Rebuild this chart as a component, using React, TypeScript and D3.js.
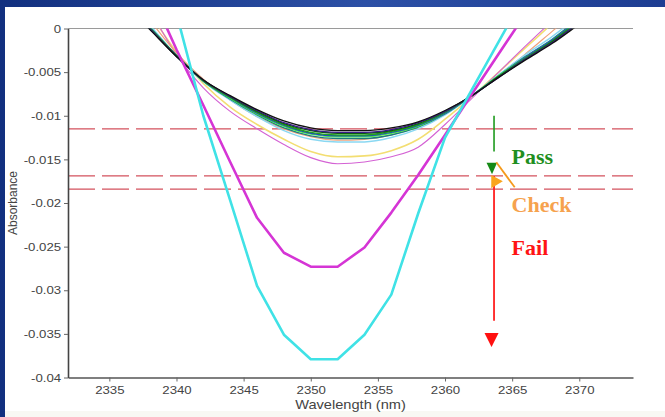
import React, { useEffect, useRef } from "react";
import * as d3 from "d3";

// wavelength grid of the spectra (nm)
const wavelengths = [2336, 2338, 2340, 2342, 2344, 2346, 2348, 2350, 2352, 2354, 2356, 2358, 2360, 2362, 2364, 2366, 2368, 2370, 2372];

// the "pass" bundle
const specBlack = [0.0030, -0.0001, -0.0032, -0.0059, -0.0077, -0.0093, -0.0106, -0.0114, -0.0117, -0.0117, -0.0114, -0.0107, -0.0094, -0.0077, -0.0056, -0.0036, -0.0017, 0.0005, 0.0027];
const specNavy = [0.0031, 0.0000, -0.0032, -0.0059, -0.0078, -0.0094, -0.0108, -0.0116, -0.0119, -0.0119, -0.0116, -0.0108, -0.0095, -0.0077, -0.0056, -0.0035, -0.0016, 0.0007, 0.0029];
const specDarkGreen = [0.0032, 0.0000, -0.0032, -0.0059, -0.0078, -0.0095, -0.0109, -0.0117, -0.0120, -0.0120, -0.0117, -0.0109, -0.0095, -0.0077, -0.0055, -0.0035, -0.0015, 0.0007, 0.0030];
const specGreen = [0.0033, 0.0001, -0.0031, -0.0060, -0.0079, -0.0096, -0.0110, -0.0119, -0.0122, -0.0122, -0.0118, -0.0110, -0.0096, -0.0077, -0.0055, -0.0034, -0.0014, 0.0009, 0.0032];
const specBlue = [0.0034, 0.0001, -0.0031, -0.0060, -0.0079, -0.0097, -0.0111, -0.0120, -0.0123, -0.0123, -0.0119, -0.0111, -0.0097, -0.0077, -0.0055, -0.0033, -0.0013, 0.0010, 0.0032];
const specLime = [0.0034, 0.0001, -0.0031, -0.0060, -0.0080, -0.0098, -0.0112, -0.0121, -0.0124, -0.0124, -0.0120, -0.0112, -0.0097, -0.0077, -0.0054, -0.0033, -0.0013, 0.0010, 0.0033];
const specTeal = [0.0035, 0.0002, -0.0031, -0.0060, -0.0081, -0.0099, -0.0114, -0.0123, -0.0126, -0.0126, -0.0122, -0.0113, -0.0098, -0.0077, -0.0054, -0.0032, -0.0012, 0.0012, 0.0035];
const specSky = [0.0038, 0.0004, -0.0031, -0.0061, -0.0082, -0.0101, -0.0117, -0.0127, -0.0130, -0.0130, -0.0125, -0.0115, -0.0099, -0.0077, -0.0053, -0.0030, -0.0009, 0.0015, 0.0039];

// "check" spectra
const specSalmon = [null, 0.0010, -0.0028, -0.0058, -0.0082, -0.0101, -0.0115, -0.0124, -0.0128, -0.0127, -0.0122, -0.0112, -0.0096, -0.0077, -0.0054, -0.0029, -0.0003, 0.0023, null];
const specYellow = [null, 0.0018, -0.0027, -0.0063, -0.0090, -0.0110, -0.0127, -0.0141, -0.0147, -0.0146, -0.0140, -0.0127, -0.0104, -0.0078, -0.0050, -0.0022, 0.0006, null, null];
const specViolet = [null, 0.0022, -0.0030, -0.0068, -0.0095, -0.0115, -0.0133, -0.0148, -0.0155, -0.0153, -0.0147, -0.0136, -0.0110, -0.0080, -0.0050, -0.0020, 0.0009, null, null];

// "fail" spectra
const specMagenta = [null, 0.0044, -0.0024, -0.0088, -0.0153, -0.0217, -0.0257, -0.0273, -0.0273, -0.0251, -0.0211, -0.0168, -0.0122, -0.0075, -0.0029, 0.0017, null, null, null];
const specCyan = [null, null, 0.0017, -0.0100, -0.0197, -0.0295, -0.0351, -0.0379, -0.0379, -0.0351, -0.0305, -0.0212, -0.0125, -0.0070, -0.0015, 0.0040, null, null, null];

// dashed limit lines
const thresholds = [-0.0115, -0.0169, -0.0184];

const xTicks = [2335, 2340, 2345, 2350, 2355, 2360, 2365, 2370];
const yTicks = [0, -0.005, -0.01, -0.015, -0.02, -0.025, -0.03, -0.035, -0.04];
const yTickLabels = ["0", "-0.005", "-0.01", "-0.015", "-0.02", "-0.025", "-0.03", "-0.035", "-0.04"];

const spectra = [
	{ color: "#f3de72", width: 1.6, values: specYellow, smooth: true },
	{ color: "#d462d4", width: 1.1, values: specViolet, smooth: true },
	{ color: "#f0a27c", width: 1.2, values: specSalmon, smooth: true },
	{ color: "#8ad8f2", width: 1.5, values: specSky, smooth: true },
	{ color: "#1a7f80", width: 1.4, values: specTeal, smooth: true },
	{ color: "#46ec46", width: 1.4, values: specLime, smooth: true },
	{ color: "#2442d0", width: 1.4, values: specBlue, smooth: true },
	{ color: "#1fa01f", width: 1.4, values: specGreen, smooth: true },
	{ color: "#0b5e0b", width: 1.5, values: specDarkGreen, smooth: true },
	{ color: "#3a1a8a", width: 1.3, values: specNavy, smooth: true },
	{ color: "#111111", width: 1.3, values: specBlack, smooth: true },
	{ color: "#d535d5", width: 2.6, values: specMagenta, smooth: false },
	{ color: "#40e2e6", width: 2.6, values: specCyan, smooth: false },
];

const axisFont = "'Liberation Sans', Arial, sans-serif";

function SpectraChart() {
	const svgRef = useRef<SVGSVGElement>(null);

	useEffect(() => {
		const svg = d3.select(svgRef.current);
		svg.selectAll("*").remove();

		const width = 665;
		const height = 417;

		const x = d3.scaleLinear().domain([2331.92, 2374]).range([68, 633]);
		const y = d3.scaleLinear().domain([-0.04, 0]).range([377.5, 28.5]);

		// slide background
		const defs = svg.append("defs");
		const grad = defs.append("linearGradient").attr("id", "slideBg").attr("x1", "0").attr("x2", "1").attr("y1", "0").attr("y2", "0");
		grad.append("stop").attr("offset", "0%").attr("stop-color", "#12307f");
		grad.append("stop").attr("offset", "55%").attr("stop-color", "#2c50a6");
		grad.append("stop").attr("offset", "100%").attr("stop-color", "#1d3d92");
		defs.append("clipPath").attr("id", "plotClip")
			.append("rect")
			.attr("x", 68).attr("y", y(0))
			.attr("width", 633 - 68).attr("height", y(-0.04) - y(0));

		svg.append("rect").attr("width", width).attr("height", height).attr("fill", "url(#slideBg)");
		svg.append("rect").attr("x", 5).attr("y", 7).attr("width", width - 5).attr("height", height - 7).attr("fill", "#ffffff");
		svg.append("rect").attr("x", 5).attr("y", 411).attr("width", width - 5).attr("height", 6).attr("fill", "#f8f8f3");

		// top frame line
		svg.append("line")
			.attr("x1", 68).attr("x2", 633)
			.attr("y1", y(0)).attr("y2", y(0))
			.attr("stroke", "#9a9a9a").attr("stroke-width", 1);

		const plot = svg.append("g").attr("clip-path", "url(#plotClip)");

		// limit lines
		plot.selectAll(".limit")
			.data(thresholds)
			.enter()
			.append("line")
			.attr("class", "limit")
			.attr("x1", 68).attr("x2", 633)
			.attr("y1", (d) => y(d)).attr("y2", (d) => y(d))
			.attr("stroke", "#d4525e")
			.attr("stroke-width", 1.3)
			.attr("stroke-dasharray", "27 7");

		const smoothLine = d3
			.line<number | null>()
			.defined((d) => d !== null)
			.x((d, i) => x(wavelengths[i]))
			.y((d) => y(d as number))
			.curve(d3.curveMonotoneX);
		const straightLine = d3
			.line<number | null>()
			.defined((d) => d !== null)
			.x((d, i) => x(wavelengths[i]))
			.y((d) => y(d as number));

		plot.selectAll(".spectrum")
			.data(spectra)
			.enter()
			.append("path")
			.attr("class", "spectrum")
			.attr("d", (d) => (d.smooth ? smoothLine(d.values) : straightLine(d.values)))
			.attr("fill", "none")
			.attr("stroke", (d) => d.color)
			.attr("stroke-width", (d) => d.width)
			.attr("stroke-linejoin", "round");

		// axes
		const xAxis = svg.append("g")
			.attr("transform", `translate(0,${y(-0.04)})`)
			.call(d3.axisBottom(x).tickValues(xTicks).tickSize(4).tickSizeOuter(0).tickPadding(4).tickFormat((d) => String(d)));
		xAxis.select(".domain").attr("stroke", "#555").attr("stroke-width", 1.6);
		xAxis.selectAll(".tick line").attr("stroke", "#666");
		xAxis.selectAll(".tick text")
			.attr("font-family", axisFont).attr("font-size", 11.5).attr("fill", "#444")
			.attr("transform", "scale(1.15,1)");

		const yAxis = svg.append("g")
			.attr("transform", "translate(68,0)")
			.call(d3.axisLeft(y).tickValues(yTicks).tickSize(4).tickSizeOuter(0).tickPadding(2)
				.tickFormat((d, i) => yTickLabels[i]));
		yAxis.select(".domain").attr("stroke", "#444").attr("stroke-width", 1.6);
		yAxis.selectAll(".tick line").attr("stroke", "#666");
		yAxis.selectAll(".tick text")
			.attr("font-family", axisFont).attr("font-size", 11.5).attr("fill", "#444")
			.attr("transform", "scale(1.15,1)");

		svg.append("text")
			.attr("transform", `translate(${(68 + 633) / 2},409) scale(1.17,1)`)
			.attr("text-anchor", "middle")
			.attr("font-family", axisFont).attr("font-size", 12.5).attr("fill", "#444")
			.text("Wavelength (nm)");

		svg.append("text")
			.attr("transform", `translate(16.5,${(y(0) + y(-0.04)) / 2}) rotate(-90)`)
			.attr("text-anchor", "middle")
			.attr("font-family", axisFont).attr("font-size", 12).attr("fill", "#444")
			.text("Absorbance");

		// pass / check / fail marker
		const ax = x(2363.65);
		const serif = "'Liberation Serif', 'Times New Roman', serif";

		svg.append("line")
			.attr("x1", ax).attr("x2", ax)
			.attr("y1", y(-0.0100)).attr("y2", y(-0.0141))
			.attr("stroke", "#1e9a1e").attr("stroke-width", 1.6);
		svg.append("path")
			.attr("d", `M${ax - 7.5},${y(-0.0154)} L${ax + 3},${y(-0.0154)} L${ax - 2},${y(-0.0167)} Z`)
			.attr("fill", "#168a16");

		svg.append("line")
			.attr("x1", ax).attr("x2", ax)
			.attr("y1", y(-0.0169)).attr("y2", y(-0.0335))
			.attr("stroke", "#ff2020").attr("stroke-width", 1.8);
		svg.append("path")
			.attr("d", `M${ax - 9.5},${y(-0.0349)} L${ax + 4.5},${y(-0.0349)} L${ax - 2.5},${y(-0.0365)} Z`)
			.attr("fill", "#ff1010");

		svg.append("line")
			.attr("x1", x(2363.82)).attr("y1", y(-0.01533))
			.attr("x2", x(2365.19)).attr("y2", y(-0.0182))
			.attr("stroke", "#f59a1c").attr("stroke-width", 1.8);
		svg.append("path")
			.attr("d", `M${ax - 2.8},${y(-0.0168)} L${ax + 8.8},${y(-0.0175)} L${ax - 2.8},${y(-0.0183)} Z`)
			.attr("fill", "#f9a51e");

		const labels = [
			{ text: "Pass", v: -0.01553, color: "#1f8f1f" },
			{ text: "Check", v: -0.02107, color: "#f6a24e" },
			{ text: "Fail", v: -0.02596, color: "#ff1414" },
		];
		svg.selectAll(".status")
			.data(labels)
			.enter()
			.append("text")
			.attr("class", "status")
			.attr("x", x(2364.96))
			.attr("y", (d) => y(d.v))
			.attr("font-family", serif)
			.attr("font-weight", "bold")
			.attr("font-size", 22)
			.attr("fill", (d) => d.color)
			.text((d) => d.text);
	}, []);

	return (
		<svg
			ref={svgRef}
			width={665}
			height={417}
			style={{ position: "absolute", left: 0, top: 0, display: "block" }}
		></svg>
	);
}

export default function App() {
	return <SpectraChart />;
}
